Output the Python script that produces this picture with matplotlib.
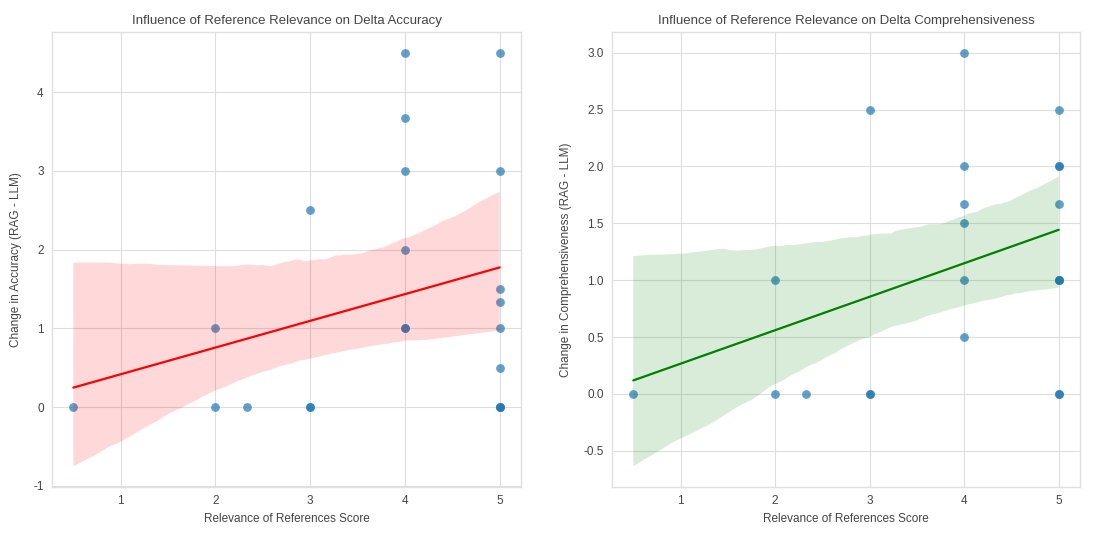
import numpy as np
import matplotlib
matplotlib.use("Agg")
import matplotlib.pyplot as plt
import seaborn as sns

# Relevance score (same x for both panels)
relevance = [0.5, 2, 2, 2.33, 3, 3, 3,
             4, 4, 4, 4, 4, 4,
             5, 5, 5, 5, 5, 5, 5, 5, 5]

# Change in accuracy (RAG - LLM)
delta_acc = [0, 1, 0, 0, 2.5, 0, 0,
             4.5, 3.67, 3, 2, 1, 1,
             4.5, 3, 1.5, 1.33, 1, 0.5, 0, 0, 0]

# Change in comprehensiveness (RAG - LLM)
delta_comp = [0, 1, 0, 0, 2.5, 0, 0,
              3, 2, 1.67, 1.5, 1, 0.5,
              2.5, 2, 2, 1.67, 1, 1, 1, 0, 0]

plt.style.use("seaborn-v0_8-whitegrid")
plt.rcParams["font.family"] = ["Liberation Sans", "DejaVu Sans"]
plt.rcParams["axes.edgecolor"] = "#e0e0e0"
plt.rcParams["grid.color"] = "#dedede"
plt.rcParams["axes.unicode_minus"] = False

fig = plt.figure(figsize=(11.02, 5.47), dpi=100)
ax1 = fig.add_axes([52 / 1102, 60 / 547, 469 / 1102, 455 / 547])
ax2 = fig.add_axes([612 / 1102, 60 / 547, 468 / 1102, 455 / 547])

x = np.array(relevance)
txt = "#444444"

sns.regplot(x=x, y=np.array(delta_acc), ax=ax1, seed=3,
            scatter_kws={"s": 40, "alpha": 0.7, "color": "#1f77b4", "linewidths": 0},
            line_kws={"color": "red", "lw": 1.6})
ax1.set_title("Influence of Reference Relevance on Delta Accuracy", fontsize=9.5, color=txt)
ax1.set_xlabel("Relevance of References Score", fontsize=8.5, color=txt)
ax1.set_ylabel("Change in Accuracy (RAG - LLM)", fontsize=8.5, color=txt)

sns.regplot(x=x, y=np.array(delta_comp), ax=ax2, seed=3,
            scatter_kws={"s": 40, "alpha": 0.7, "color": "#1f77b4", "linewidths": 0},
            line_kws={"color": "green", "lw": 1.6})
ax2.set_title("Influence of Reference Relevance on Delta Comprehensiveness", fontsize=9.5, color=txt)
ax2.set_xlabel("Relevance of References Score", fontsize=8.5, color=txt)
ax2.set_ylabel("Change in Comprehensiveness (RAG - LLM)", fontsize=8.5, color=txt)

for ax in (ax1, ax2):
    ax.tick_params(labelsize=8.5, colors=txt, pad=6)
    ax.yaxis.labelpad = 8

fig.savefig("out.png", dpi=100)
